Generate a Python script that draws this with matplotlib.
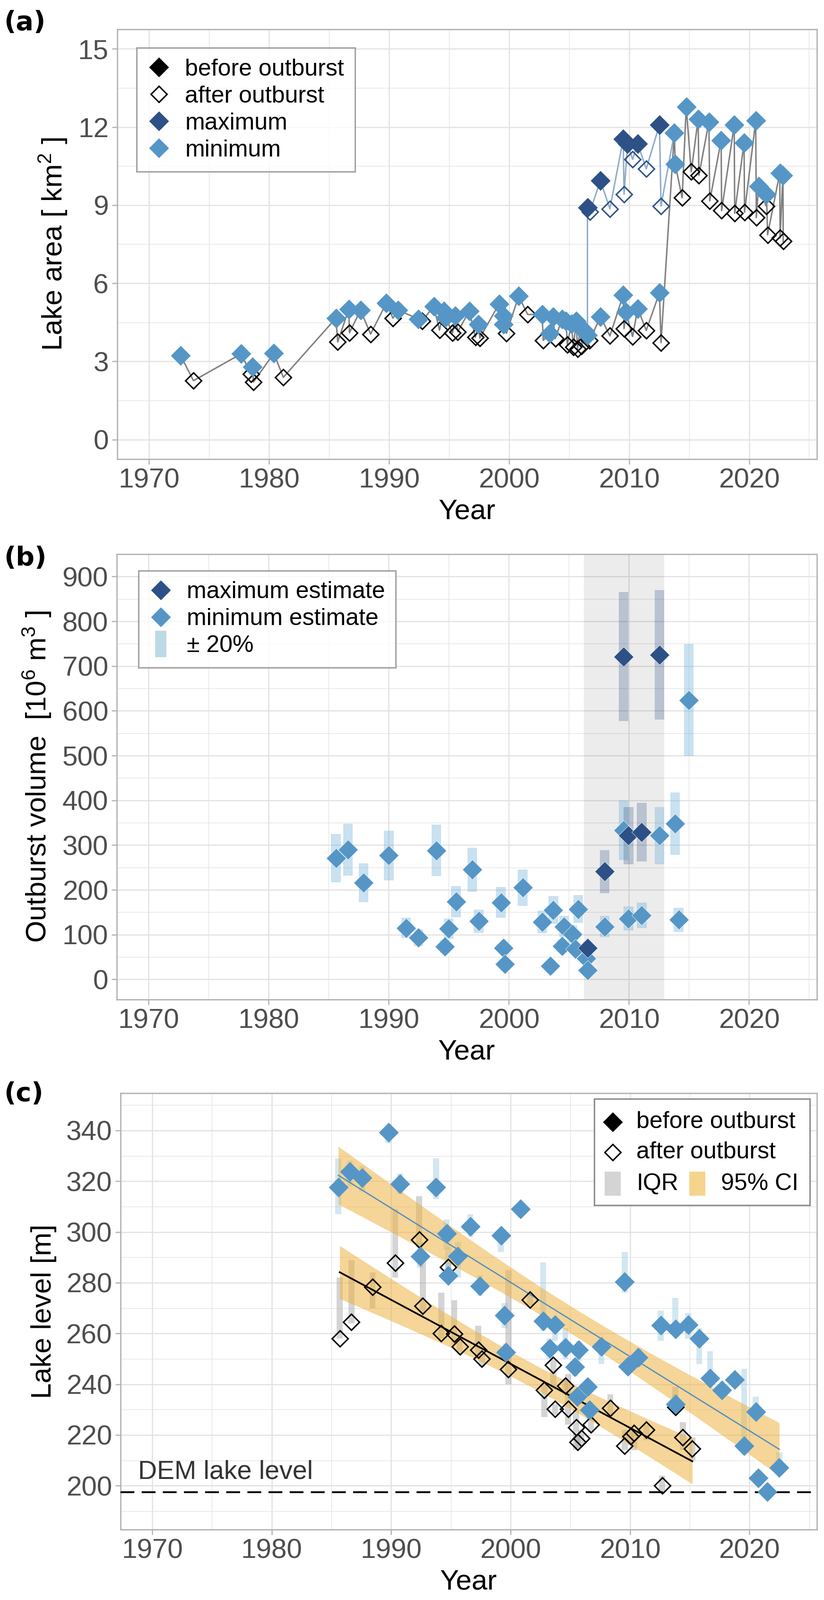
import numpy as np
import matplotlib
matplotlib.use("Agg")
import matplotlib.pyplot as plt
from matplotlib.lines import Line2D
from matplotlib.patches import Rectangle

plt.rcParams['font.family'] = ['Liberation Sans', 'DejaVu Sans']
plt.rcParams['mathtext.fontset'] = 'custom'
plt.rcParams['mathtext.rm'] = 'Liberation Sans'
plt.rcParams['mathtext.it'] = 'Liberation Sans:italic'

########## DATA ##########

# (a) lake area, minimum series (b = before outburst, a = after outburst)
min_year = [1972.64, 1973.70, 1977.67, 1978.50, 1978.62, 1978.70, 1980.40, 1981.19,
            1985.57, 1985.72, 1986.64, 1986.70, 1987.62, 1988.46, 1989.77, 1990.32,
            1990.76, 1992.44, 1992.75, 1993.73, 1994.20, 1994.56, 1994.70, 1995.29,
            1995.50, 1995.73, 1996.68, 1997.19, 1997.46, 1997.56, 1999.17, 1999.53,
            1999.55, 1999.78, 2000.80, 2001.55, 2002.75, 2002.85, 2003.40, 2003.65,
            2003.85, 2004.40, 2004.75, 2004.85, 2005.20, 2005.35, 2005.60, 2005.70,
            2005.95, 2006.05, 2006.35, 2006.55, 2006.70, 2007.62, 2008.40, 2009.51,
            2009.58, 2009.72, 2010.29, 2010.72, 2011.43, 2012.53, 2012.66, 2013.77,
            2013.84, 2014.42, 2014.76, 2015.18, 2015.75, 2015.82, 2016.65, 2016.72,
            2017.67, 2017.71, 2018.76, 2018.80, 2019.58, 2019.62, 2020.55, 2020.60,
            2020.79, 2021.42, 2021.45, 2021.54, 2022.56, 2022.58, 2022.82, 2022.84]
min_area = [3.22, 2.26, 3.29, 2.52, 2.79, 2.21, 3.31, 2.39,
            4.66, 3.75, 5.00, 4.10, 4.97, 4.05, 5.24, 4.66,
            4.97, 4.63, 4.55, 5.12, 4.20, 4.94, 4.68, 4.10,
            4.75, 4.14, 4.94, 3.93, 4.42, 3.90, 5.21, 4.75,
            4.42, 4.08, 5.51, 4.80, 4.81, 3.81, 4.08, 4.72,
            3.88, 4.62, 4.55, 3.65, 4.45, 3.55, 4.55, 3.48,
            4.30, 3.58, 4.15, 4.00, 3.80, 4.71, 3.98, 5.55,
            4.26, 4.90, 3.96, 5.03, 4.19, 5.64, 3.72, 11.77,
            10.58, 9.28, 12.78, 10.28, 12.30, 10.14, 12.20, 9.16,
            11.49, 8.79, 12.09, 8.69, 11.40, 8.73, 12.24, 8.52,
            9.72, 8.97, 9.42, 7.86, 10.24, 7.74, 10.15, 7.61]
min_kind = ['b', 'a', 'b', 'a', 'b', 'a', 'b', 'a',
            'b', 'a', 'b', 'a', 'b', 'a', 'b', 'a',
            'b', 'b', 'a', 'b', 'a', 'b', 'b', 'a',
            'b', 'a', 'b', 'a', 'b', 'a', 'b', 'b',
            'b', 'a', 'b', 'a', 'b', 'a', 'b', 'b',
            'a', 'b', 'b', 'a', 'b', 'a', 'b', 'a',
            'b', 'a', 'b', 'b', 'a', 'b', 'a', 'b',
            'a', 'b', 'a', 'b', 'a', 'b', 'a', 'b',
            'b', 'a', 'b', 'a', 'b', 'a', 'b', 'a',
            'b', 'a', 'b', 'a', 'b', 'a', 'b', 'a',
            'b', 'a', 'b', 'a', 'b', 'a', 'b', 'a']

# (a) lake area, maximum series ('-' = line only)
max_year = [2006.53, 2006.53, 2006.74, 2007.61, 2008.40, 2009.51, 2009.58,
            2009.87, 2010.29, 2010.72, 2011.43, 2012.53, 2012.66, 2013.77]
max_area = [3.90, 8.90, 8.75, 9.94, 8.86, 11.53, 9.42,
            11.36, 10.76, 11.36, 10.39, 12.09, 8.97, 11.77]
max_kind = ['-', 'b', 'a', 'b', 'a', 'b', 'a', 'b', 'a', 'b', 'a', 'b', 'a', '-']

# (b) outburst volume [10^6 m3]
vmin_year = [1985.60, 1986.60, 1987.90, 1990.00, 1991.45, 1992.47, 1993.96, 1994.67,
             1994.98, 1995.60, 1996.96, 1997.49, 1999.34, 1999.56, 1999.65, 2001.15,
             2002.78, 2003.44, 2003.70, 2004.45, 2004.58, 2005.30, 2005.55, 2005.77,
             2006.43, 2006.56, 2007.97, 2009.56, 2009.96, 2011.06, 2012.55, 2013.83,
             2014.14, 2014.98]
vmin_vol = [271, 290, 216, 277, 115, 93, 288, 73,
            113, 174, 245, 130, 172, 70, 34, 205,
            128, 30, 155, 74, 118, 101, 68, 157,
            47, 21, 118, 333, 136, 143, 321, 348,
            133, 624]
vmax_year = [2006.56, 2007.97, 2009.56, 2009.96, 2011.06, 2012.55]
vmax_vol = [70, 241, 721, 321, 329, 725]
uncert = 0.20
shade_start, shade_end = 2006.26, 2012.95

# (c) lake level [m] before outburst with IQR
bef_year = [1985.58, 1986.55, 1987.57, 1989.78, 1990.75, 1992.43, 1993.76, 1994.65,
            1994.78, 1995.58, 1996.64, 1997.43, 1999.20, 1999.50, 1999.60, 2000.84,
            2002.74, 2003.27, 2003.72, 2004.60, 2005.40, 2005.70, 2005.60, 2006.46,
            2006.60, 2007.60, 2009.56, 2009.82, 2010.70, 2012.57, 2013.80, 2013.80,
            2014.87, 2015.80, 2016.70, 2017.70, 2018.76, 2019.56, 2020.53, 2020.75,
            2021.50, 2022.50]
bef_level = [317.6, 323.7, 321.3, 339.3, 319.0, 290.5, 317.6, 299.3,
             282.8, 290.5, 302.1, 278.6, 298.7, 267.2, 252.6, 309.1,
             264.8, 254.0, 263.4, 254.4, 246.8, 253.5, 235.0, 239.0,
             229.8, 254.9, 280.4, 246.9, 250.6, 263.2, 232.0, 261.8,
             263.4, 258.0, 242.4, 237.7, 241.7, 215.7, 229.1, 203.1,
             197.7, 207.2]
bef_q1 = [307, 318, 316, 335, 315, 286, 313, 293,
          280, 282, 298, 275, 292, 262, 249, 306,
          261, 250, 257, 250, 243, 249, 232, 236,
          226, 248, 276, 244, 247, 257, 228, 259,
          258, 248, 239, 235, 239, 214, 227, 200,
          195, 205]
bef_q3 = [329, 328, 326, 341, 323, 296, 329, 305,
          294, 296, 307, 283, 300, 272, 256, 311,
          288, 258, 266, 262, 250, 257, 238, 242,
          233, 258, 292, 250, 254, 269, 236, 274,
          268, 262, 253, 240, 244, 246, 235, 206,
          201, 213]

# (c) lake level [m] after outburst with IQR
aft_year = [1985.70, 1986.68, 1988.45, 1990.35, 1992.35, 1992.65, 1994.20, 1994.78,
            1995.30, 1995.75, 1997.30, 1997.60, 1999.82, 2001.64, 2002.83, 2003.58,
            2003.72, 2004.60, 2004.82, 2005.49, 2005.62, 2005.93, 2006.73, 2008.36,
            2009.56, 2010.04, 2010.35, 2011.37, 2012.70, 2013.80, 2014.42, 2015.22]
aft_level = [258.0, 264.5, 278.3, 287.8, 297.0, 270.9, 260.0, 286.1,
             259.8, 254.9, 253.5, 249.9, 245.8, 273.3, 237.7, 247.6,
             230.2, 239.3, 230.2, 223.0, 217.1, 218.7, 224.1, 230.5,
             215.7, 219.4, 220.7, 222.1, 200.1, 231.0, 219.0, 214.6]
aft_q1 = [258, 264, 270, 282, 294, 268, 258, 284,
          256, 252, 250, 247, 240, 271, 227, 238,
          228, 236, 224, 214, 215, 216, 221, 228,
          214, 216, 214, 218, 197, 230, 214, 210]
aft_q3 = [282, 289, 284, 309, 314, 290, 276, 288,
          273, 258, 263, 252, 285, 276, 240, 250,
          232, 242, 244, 230, 220, 222, 228, 236,
          222, 222, 221, 224, 204, 239, 225, 219]
dem_level = 197.5

########## STYLE ##########

c_min = '#5596C6'
c_max = '#2D5186'
c_line_min = '#7F7F7F'
c_line_max = '#8EABCB'
c_grid = '#E2E2E2'
c_border = '#B3B3B3'
c_tick = '#4D4D4D'
ms_f = 21
ms_h = 17
tick_fs = 42
title_fs = 43
leg_fs = 36

W, H = 1743, 3384
fig = plt.figure(figsize=(W / 100, H / 100), dpi=100)


def px_axes(left, right, top, bottom):
    return fig.add_axes([left / W, 1 - bottom / H, (right - left) / W, (bottom - top) / H])


def style(ax, yticks, yminor, ylim):
    ax.set_xlim(1967.35, 2025.65)
    ax.set_ylim(*ylim)
    ax.set_xticks(np.arange(1970, 2021, 10))
    ax.set_xticks(np.arange(1975, 2026, 10), minor=True)
    ax.set_yticks(yticks)
    ax.set_yticks(yminor, minor=True)
    ax.grid(which='major', color=c_grid, lw=1.8, zorder=0)
    ax.grid(which='minor', color=c_grid, lw=0.9, zorder=0)
    ax.set_axisbelow(True)
    for s in ax.spines.values():
        s.set_color(c_border)
        s.set_linewidth(2.0)
    ax.tick_params(which='major', length=8, width=1.8, color=c_border,
                   labelcolor=c_tick, labelsize=tick_fs, pad=5)
    ax.tick_params(which='minor', length=0)
    ax.set_xlabel('Year', fontsize=title_fs, labelpad=8)


def panel_label(txt, y):
    fig.text(8 / W, 1 - y / H, txt, fontsize=40, fontweight='bold',
             family='DejaVu Sans', ha='left', va='baseline')


def legend_box(ax, handles, labels, x, y):
    leg = ax.legend(handles, labels, loc='upper left', bbox_to_anchor=(x, y),
                    borderaxespad=0, fontsize=leg_fs, frameon=True, fancybox=False,
                    edgecolor='#8C8C8C', handlelength=1.0, handletextpad=0.6,
                    labelspacing=0.22, borderpad=0.45)
    leg.get_frame().set_linewidth(2.2)
    leg.set_zorder(20)
    return leg


########## (a) LAKE AREA ##########

ax = px_axes(248, 1728, 62, 971)
style(ax, np.arange(0, 16, 3), np.arange(1.5, 15, 3), (-0.75, 15.75))

ax.plot(max_year, max_area, color=c_line_max, lw=2.2, zorder=2)
ax.plot(min_year, min_area, color=c_line_min, lw=2.2, zorder=2)

for yrs, vals, kinds, fc, ec in [(min_year, min_area, min_kind, c_min, 'black'),
                                 (max_year, max_area, max_kind, c_max, c_max)]:
    yrs, vals, kinds = np.array(yrs), np.array(vals), np.array(kinds)
    a = kinds == 'a'
    b = kinds == 'b'
    ax.plot(yrs[a], vals[a], ls='none', marker='D', ms=ms_h, mfc='none',
            mec=ec, mew=2.2, zorder=3)
    ax.plot(yrs[b], vals[b], ls='none', marker='D', ms=ms_f, mfc=fc,
            mec='none', zorder=4)

ax.set_ylabel('Lake area [ km$^2$ ]', fontsize=title_fs, labelpad=14)

h = [Line2D([], [], ls='none', marker='D', ms=ms_f, mfc='black', mec='none'),
     Line2D([], [], ls='none', marker='D', ms=ms_h, mfc='none', mec='black', mew=2.2),
     Line2D([], [], ls='none', marker='D', ms=ms_f, mfc=c_max, mec='none'),
     Line2D([], [], ls='none', marker='D', ms=ms_f, mfc=c_min, mec='none')]
legend_box(ax, h, ['before outburst', 'after outburst', 'maximum', 'minimum'],
           0.0277, 0.957)
panel_label('(a)', 63)

########## (b) OUTBURST VOLUME ##########

ax = px_axes(247, 1728, 1172, 2114)
style(ax, np.arange(0, 901, 100), np.arange(50, 951, 100), (-45, 945))
ax.axvspan(shade_start, shade_end, color='black', alpha=0.075, lw=0, zorder=1)

vmin_year_a, vmin_vol_a = np.array(vmin_year), np.array(vmin_vol)
vmax_year_a, vmax_vol_a = np.array(vmax_year), np.array(vmax_vol)
ax.bar(vmin_year_a, 2 * uncert * vmin_vol_a, bottom=vmin_vol_a * (1 - uncert),
       width=0.8, color='#6BAED6', alpha=0.36, lw=0, zorder=2)
ax.bar(vmax_year_a, 2 * uncert * vmax_vol_a, bottom=vmax_vol_a * (1 - uncert),
       width=0.8, color=c_max, alpha=0.27, lw=0, zorder=2)
ax.plot(vmin_year_a, vmin_vol_a, ls='none', marker='D', ms=ms_f, mfc=c_min,
        mec='white', mew=0.5, zorder=4)
ax.plot(vmax_year_a, vmax_vol_a, ls='none', marker='D', ms=ms_f, mfc=c_max,
        mec='white', mew=0.5, zorder=5)

ax.set_ylabel('Outburst volume  [10$^6$ m$^3$ ]', fontsize=title_fs, labelpad=14)

h = [Line2D([], [], ls='none', marker='D', ms=ms_f, mfc=c_max, mec='none'),
     Line2D([], [], ls='none', marker='D', ms=ms_f, mfc=c_min, mec='none'),
     Line2D([], [], ls='none', marker='|', ms=40, mew=17, color='#BCD9E6')]
legend_box(ax, h, ['maximum estimate', 'minimum estimate', '± 20%'], 0.031, 0.963)
panel_label('(b)', 1196)

########## (c) LAKE LEVEL ##########

ax = px_axes(255, 1728, 2312, 3235)
style(ax, np.arange(200, 341, 20), np.arange(190, 351, 20), (182.7, 354.7))


def lm_band(x, y, t):
    x, y = np.asarray(x), np.asarray(y)
    n = len(x)
    slope, icpt = np.polyfit(x, y, 1)
    xs = np.linspace(x.min(), x.max(), 80)
    fit = icpt + slope * xs
    s = np.sqrt(np.sum((y - (icpt + slope * x)) ** 2) / (n - 2))
    se = s * np.sqrt(1 / n + (xs - x.mean()) ** 2 / np.sum((x - x.mean()) ** 2))
    return xs, fit, fit - t * se, fit + t * se


bef_year_a, bef_level_a = np.array(bef_year), np.array(bef_level)
aft_year_a, aft_level_a = np.array(aft_year), np.array(aft_level)
bq1, bq3 = np.array(bef_q1), np.array(bef_q3)
aq1, aq3 = np.array(aft_q1), np.array(aft_q3)

ax.bar(bef_year_a, bq3 - bq1, bottom=bq1, width=0.5, color='#9ECAE1', alpha=0.45,
       lw=0, zorder=2)
ax.bar(aft_year_a, aq3 - aq1, bottom=aq1, width=0.5, color='#A0A0A0', alpha=0.45,
       lw=0, zorder=2)

for yrs, lev, t, lc, lw in [(bef_year, bef_level, 2.02, '#4A8CC4', 1.8),
                            (aft_year, aft_level, 2.04, 'black', 2.6)]:
    xs, fit, lo, hi = lm_band(yrs, lev, t)
    ax.fill_between(xs, lo, hi, color='#EDB443', alpha=0.55, lw=0, zorder=3)
    ax.plot(xs, fit, color=lc, lw=lw, zorder=4)

ax.axhline(dem_level, color='black', lw=2.8, dashes=(7.5, 4), zorder=4)
ax.text(1968.8, dem_level + 5.2, 'DEM lake level', fontsize=40, color='#333333',
        ha='left', va='baseline')

ax.plot(aft_year_a, aft_level_a, ls='none', marker='D', ms=ms_h, mfc='none',
        mec='black', mew=2.2, zorder=5)
ax.plot(bef_year_a, bef_level_a, ls='none', marker='D', ms=ms_f, mfc=c_min,
        mec='none', zorder=6)

ax.set_ylabel('Lake level [m]', fontsize=title_fs, labelpad=14)

# legend drawn by hand (two keys share the last row)
tr = ax.transAxes
ax.add_patch(Rectangle((0.680, 0.743), 0.310, 0.244, transform=tr, facecolor='white',
                       edgecolor='#8C8C8C', lw=2.2, zorder=20))
ax.plot([0.707], [0.934], transform=tr, ls='none', marker='D', ms=ms_f, mfc='black',
        mec='none', zorder=21, clip_on=False)
ax.plot([0.707], [0.865], transform=tr, ls='none', marker='D', ms=ms_h, mfc='none',
        mec='black', mew=2.2, zorder=21, clip_on=False)
ax.add_patch(Rectangle((0.695, 0.765), 0.023, 0.055, transform=tr,
                       facecolor='#D4D4D4', lw=0, zorder=21))
ax.add_patch(Rectangle((0.817, 0.765), 0.023, 0.055, transform=tr,
                       facecolor='#F5D48C', lw=0, zorder=21))
for txt, xx, yy in [('before outburst', 0.741, 0.934), ('after outburst', 0.741, 0.865),
                    ('IQR', 0.741, 0.792), ('95% CI', 0.862, 0.792)]:
    ax.text(xx, yy, txt, transform=tr, fontsize=leg_fs, ha='left', va='center',
            zorder=22)
panel_label('(c)', 2329)

fig.savefig('out.png', dpi=100)
